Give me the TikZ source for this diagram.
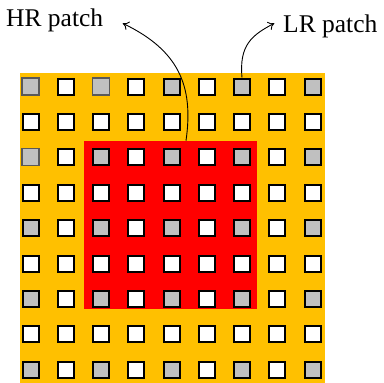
\documentclass[tikz,border=0pt]{standalone}
\usepackage{fontspec}
\setmainfont{Liberation Serif}
\usetikzlibrary{arrows.meta}
\definecolor{patchorange}{RGB}{255,192,0}
\definecolor{patchred}{RGB}{255,0,0}
\definecolor{cellgray}{RGB}{192,192,192}
\begin{document}
\begin{tikzpicture}[x=1pt,y=1pt,
  cell/.style={draw=black,line width=2pt,minimum size=16pt,inner sep=0pt,fill=white},
  graycell/.style={cell,fill=cellgray},
  faintcell/.style={cell,fill=cellgray,draw=black!65,line width=1.1pt,minimum size=17pt},
  lbl/.style={font=\fontsize{25.5}{29}\selectfont,inner sep=0pt,anchor=base west},
  pointer/.style={-{To[length=6pt,width=9pt]},line width=0.9pt}]
\useasboundingbox (0,0) rectangle (384,-383);
\fill[patchorange] (20,-72.7) rectangle (325,-383);
\fill[patchred] (84,-140.7) rectangle (257.3,-309);
\foreach \i in {0,...,8}{
  \foreach \j in {0,...,8}{
    \pgfmathsetmacro{\cx}{30.5+35.25*\i}
    \pgfmathsetmacro{\cy}{-86.5-35.4*\j}
    \pgfmathtruncatemacro{\ev}{(mod(\i,2)==0 && mod(\j,2)==0) ? 1 : 0}
    \pgfmathtruncatemacro{\fa}{((\j==0 && (\i==0 || \i==2)) || (\j==2 && \i==0)) ? 1 : 0}
    \ifnum\fa=1
      \node[faintcell] (c-\i-\j) at (\cx,\cy) {};
    \else\ifnum\ev=1
      \node[graycell] (c-\i-\j) at (\cx,\cy) {};
    \else
      \node[cell] (c-\i-\j) at (\cx,\cy) {};
    \fi\fi
  }
}
\node[lbl] (hr) at (6,-26.5) {HR patch};
\node[lbl] (lr) at (283,-32.7) {LR patch};
\coordinate (hrstart) at (186,-140.7);
\coordinate (hrend) at (122.7,-23.3);
\coordinate (lrend) at (274.3,-23.3);
\draw[pointer] (hrstart) .. controls (194,-85) and (178,-50) .. (hrend);
\draw[pointer] (c-6-0.north) .. controls (239,-45) and (252,-35) .. (lrend);
\end{tikzpicture}
\end{document}
